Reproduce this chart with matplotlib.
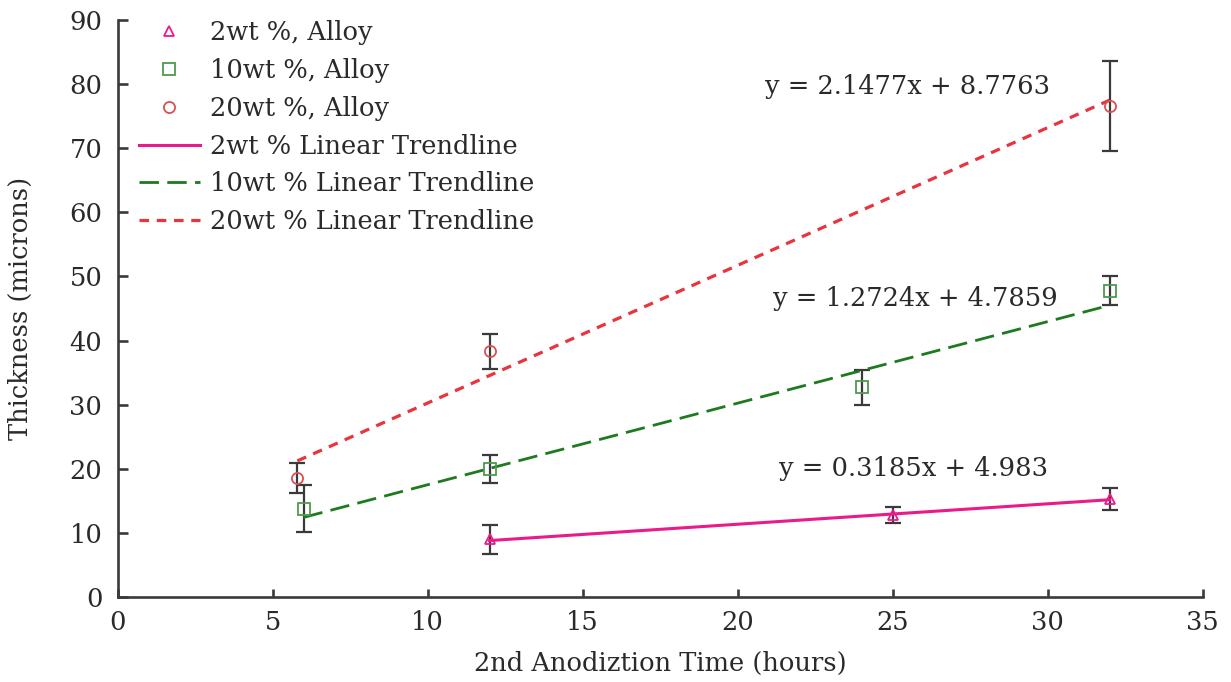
import matplotlib
matplotlib.use("Agg")
import matplotlib.pyplot as plt
import numpy as np

plt.rcParams['font.family'] = ['DejaVu Serif', 'Liberation Serif']

# data
x_2wt = [12, 25, 32]
y_2wt = [9.0, 12.8, 15.3]
e_2wt = [2.3, 1.2, 1.7]

x_10wt = [6, 12, 24, 32]
y_10wt = [13.8, 20.0, 32.7, 47.8]
e_10wt = [3.7, 2.2, 2.7, 2.2]

x_20wt = [5.8, 12, 32]
y_20wt = [18.6, 38.3, 76.6]
e_20wt = [2.3, 2.7, 7.0]

fit_2wt = (0.3185, 4.983)
fit_10wt = (1.2724, 4.7859)
fit_20wt = (2.1477, 8.7763)

labels_pts = ['2wt %, Alloy', '10wt %, Alloy', '20wt %, Alloy']
labels_fit = ['2wt % Linear Trendline', '10wt % Linear Trendline', '20wt % Linear Trendline']
eq_texts = ['y = 0.3185x + 4.983', 'y = 1.2724x + 4.7859', 'y = 2.1477x + 8.7763']

c_pink = '#ea1a8a'
c_green = '#1e7a1e'
c_red = '#e8343c'
c_err = '#3a3a3a'
c_text = '#2a2a2a'
FS = 18.5

fig = plt.figure(figsize=(12.31, 6.82), dpi=100)
ax = fig.add_axes([0.0955, 0.1246, 0.8815, 0.8461])

def fitline(xs, fit):
    xx = np.array([min(xs), max(xs)])
    return xx, fit[0] * xx + fit[1]

# trendlines
xx, yy = fitline(x_2wt, fit_2wt)
l1, = ax.plot(xx, yy, color=c_pink, lw=2.2, ls='-', label=labels_fit[0], zorder=3)
xx, yy = fitline(x_10wt, fit_10wt)
l2, = ax.plot(xx, yy, color=c_green, lw=2.0, ls=(0, (7, 3)), label=labels_fit[1], zorder=3)
xx, yy = fitline(x_20wt, fit_20wt)
l3, = ax.plot(xx, yy, color=c_red, lw=2.3, ls=(0, (3.0, 2.4)), label=labels_fit[2], zorder=3)

# error bars
for xs, ys, es in [(x_2wt, y_2wt, e_2wt), (x_10wt, y_10wt, e_10wt), (x_20wt, y_20wt, e_20wt)]:
    ax.errorbar(xs, ys, yerr=es, fmt='none', ecolor=c_err, elinewidth=1.6, capsize=5.5, capthick=1.6, zorder=2)

p1, = ax.plot(x_2wt, y_2wt, ls='none', marker='^', ms=7.5, mfc='none', mec=c_pink, mew=1.3, label=labels_pts[0], zorder=4)
p2, = ax.plot(x_10wt, y_10wt, ls='none', marker='s', ms=8, mfc='none', mec='#4c9c4c', mew=1.3, label=labels_pts[1], zorder=4)
p3, = ax.plot(x_20wt, y_20wt, ls='none', marker='o', ms=8, mfc='none', mec='#d85050', mew=1.3, label=labels_pts[2], zorder=4)

ax.text(21.32, 20.1, eq_texts[0], fontsize=FS, color=c_text, va='center', ha='left')
ax.text(21.13, 46.6, eq_texts[1], fontsize=FS, color=c_text, va='center', ha='left')
ax.text(20.87, 79.6, eq_texts[2], fontsize=FS, color=c_text, va='center', ha='left')

ax.set_xlim(0, 35)
ax.set_ylim(0, 90)
ax.set_xticks(np.arange(0, 36, 5))
ax.set_yticks(np.arange(0, 91, 10))
ax.spines['top'].set_visible(False)
ax.spines['right'].set_visible(False)
for s in ('left', 'bottom'):
    ax.spines[s].set_linewidth(1.9)
    ax.spines[s].set_color('#3a3a3a')
ax.tick_params(axis='y', direction='in', length=7, width=1.9, labelsize=FS, colors='#3a3a3a',
               labelcolor=c_text, pad=11)
ax.tick_params(axis='x', direction='in', length=5.5, width=1.9, labelsize=FS, colors='#3a3a3a',
               labelcolor=c_text, pad=9)
ax.set_xlabel('2nd Anodiztion Time (hours)', fontsize=FS, color=c_text)
ax.set_ylabel('Thickness (microns)', fontsize=FS, color=c_text)
ax.xaxis.set_label_coords(0.5, -0.093)
ax.yaxis.set_label_coords(-0.078, 0.5)

leg = ax.legend(handles=[p1, p2, p3, l1, l2, l3], loc='upper left', bbox_to_anchor=(0.02, 1.0),
                frameon=False, fontsize=FS, handlelength=2.35, handletextpad=0.39,
                labelspacing=0.5, borderaxespad=0, borderpad=0)
for t in leg.get_texts():
    t.set_color(c_text)

fig.savefig('out.png', dpi=100)
